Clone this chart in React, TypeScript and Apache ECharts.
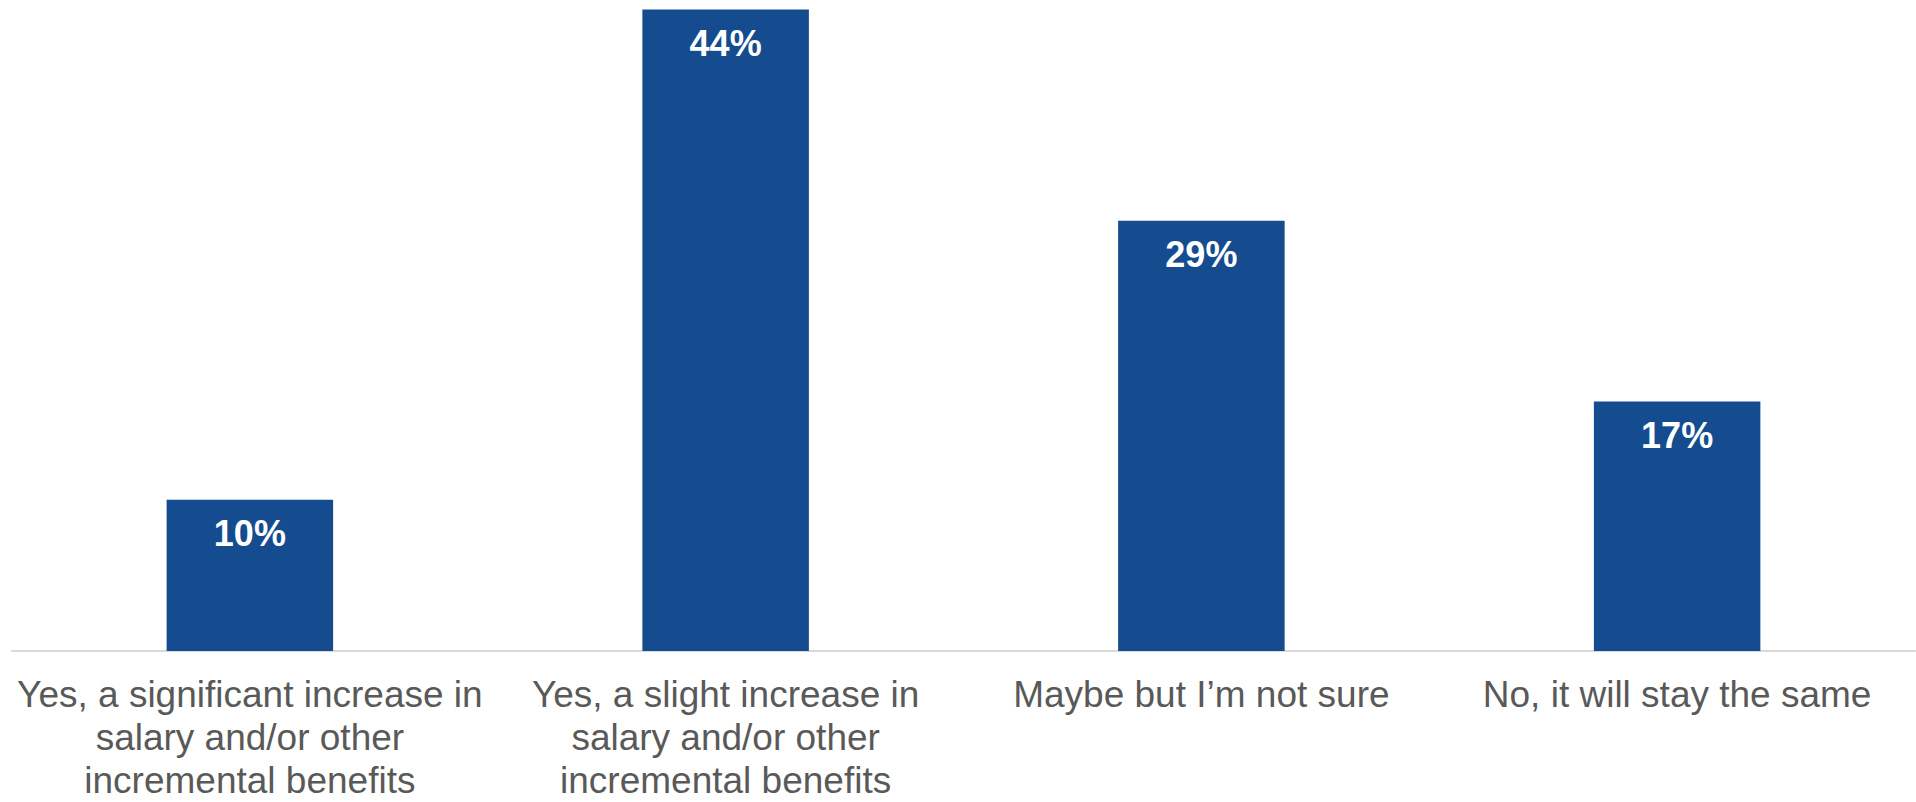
import React, { useEffect, useRef } from "react";
import * as echarts from "echarts";

const categories = [
  "Yes, a significant increase in\nsalary and/or other\nincremental benefits",
  "Yes, a slight increase in\nsalary and/or other\nincremental benefits",
  "Maybe but I’m not sure",
  "No, it will stay the same",
];
const values = [10.3, 43.7, 29.3, 17.0];
const valueLabels = ["10%", "44%", "29%", "17%"];

export default function App() {
  const ref = useRef<HTMLDivElement>(null);
  useEffect(() => {
    document.body.style.margin = "0";
    const chart = echarts.init(ref.current!, null, { renderer: "svg" });
    chart.setOption({
      animation: false,
      backgroundColor: "#ffffff",
      grid: { left: 12, right: 1, top: 5, bottom: 144, containLabel: false },
      xAxis: {
        type: "category",
        data: categories,
        axisLine: { show: true, lineStyle: { color: "#D9D9D9", width: 2 } },
        axisTick: { show: false },
        axisLabel: {
          interval: 0,
          color: "#595959",
          fontFamily: "Arial, 'Liberation Sans', sans-serif",
          fontSize: 37,
          lineHeight: 43,
          margin: 22,
          align: "center",
          verticalAlign: "top",
        },
      },
      yAxis: {
        type: "value",
        min: 0,
        max: 44,
        show: false,
        splitLine: { show: false },
      },
      series: [
        {
          type: "bar",
          data: values,
          barWidth: "35%",
          itemStyle: { color: "#144C8F" },
          label: {
            show: true,
            position: "insideTop",
            distance: 16,
            color: "#ffffff",
            fontWeight: "bold",
            fontFamily: "Arial, 'Liberation Sans', sans-serif",
            fontSize: 36,
            formatter: (p: any) => valueLabels[p.dataIndex],
          },
        },
      ],
    });
    return () => chart.dispose();
  }, []);
  return <div ref={ref} style={{ width: 1916, height: 802 }} />;
}
